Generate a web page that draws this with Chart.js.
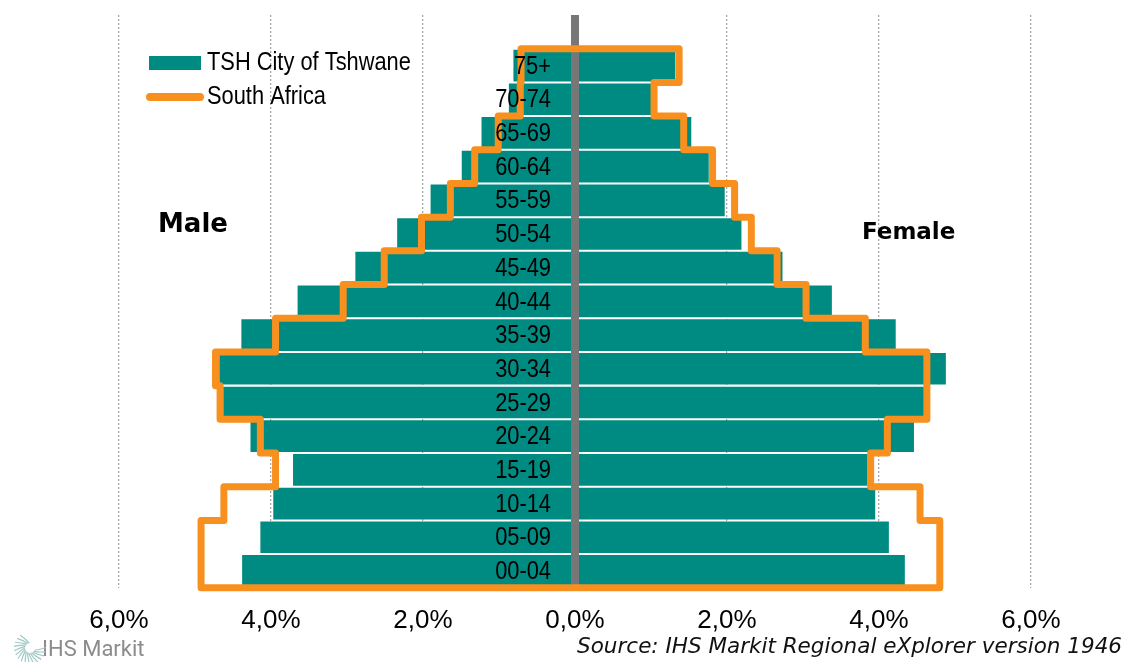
<!DOCTYPE html>
<html>
<head>
<meta charset="utf-8">
<script src="https://cdn.jsdelivr.net/npm/chart.js@4.4.1/dist/chart.umd.min.js"></script>
<style>
  html, body { margin: 0; padding: 0; background: #fff; }
  #wrap { width: 1127px; height: 662px; position: relative; }
</style>
</head>
<body>
<div id="wrap"><canvas id="pyramid"></canvas></div>
<script>
// age groups, youngest first (drawn bottom to top)
const ageGroups = ['00-04', '05-09', '10-14', '15-19', '20-24', '25-29', '30-34', '35-39',
    '40-44', '45-49', '50-54', '55-59', '60-64', '65-69', '70-74', '75+'];

// % of population, TSH City of Tshwane
const tshwaneMale   = [4.38, 4.14, 3.97, 3.71, 4.27, 4.63, 4.68, 4.39, 3.65, 2.89, 2.34, 1.90, 1.49, 1.23, 0.87, 0.81];
const tshwaneFemale = [4.34, 4.13, 3.95, 3.85, 4.46, 4.60, 4.88, 4.22, 3.38, 2.73, 2.19, 1.97, 1.76, 1.53, 1.00, 1.32];

// % of population, South Africa
const saMale   = [4.92, 4.92, 4.62, 3.94, 4.14, 4.67, 4.73, 3.94, 3.05, 2.51, 2.02, 1.64, 1.32, 1.01, 0.72, 0.71];
const saFemale = [4.80, 4.80, 4.54, 3.89, 4.11, 4.63, 4.63, 3.82, 3.04, 2.66, 2.32, 2.10, 1.81, 1.43, 1.04, 1.37];

const xTicks = [-6, -4, -2, 0, 2, 4, 6];

const TEAL = '#008b82';
const ORANGE = '#f8901f';

// male bars go left (negative), female right
const barData = ageGroups.map((g, i) => [-tshwaneMale[i], tshwaneFemale[i]]);

// South Africa outline, as steps round the whole pyramid
const outline = [];
ageGroups.forEach((g, i) => {
    outline.push({ x: saFemale[i], y: i - 0.5 }, { x: saFemale[i], y: i + 0.5 });
});
for (let i = ageGroups.length - 1; i >= 0; i--) {
    outline.push({ x: -saMale[i], y: i + 0.5 }, { x: -saMale[i], y: i - 0.5 });
}
outline.push(outline[0]);

function fmtPct(v) {
    return Math.abs(v).toFixed(1).replace('.', ',') + '%';
}

// no narrow face installed, so squeeze Liberation Sans sideways
function narrowText(ctx, text, x, y, size, align) {
    ctx.save();
    ctx.translate(x, y);
    ctx.scale(0.84, 1);
    ctx.font = size + "px 'Liberation Sans'";
    ctx.textBaseline = 'middle';
    ctx.textAlign = align;
    ctx.fillStyle = '#000';
    ctx.fillText(text, 0, 0);
    ctx.restore();
}

const overlay = {
    id: 'overlay',
    afterDatasetDraw(chart, args) {
        if (args.index !== 0) return;
        // grey centre line, over the bars but under the outline
        const { ctx, chartArea, scales } = chart;
        const x0 = scales.x.getPixelForValue(0);
        ctx.save();
        ctx.fillStyle = '#777777';
        ctx.fillRect(x0 - 4, chartArea.top, 8, chartArea.bottom - chartArea.top);
        ctx.restore();
    },
    afterDatasetsDraw(chart) {
        const { ctx, scales } = chart;
        const xr = scales.x.getPixelForValue(0) - 24;
        ageGroups.forEach((g, i) => {
            narrowText(ctx, g, xr, scales.y.getPixelForValue(i) + 1, 26, 'right');
        });
    },
    afterDraw(chart) {
        const ctx = chart.ctx;
        const ds = chart.data.datasets;

        // legend
        ctx.save();
        ctx.fillStyle = ds[0].backgroundColor;
        ctx.fillRect(149, 56, 52, 14);
        ctx.strokeStyle = ds[1].borderColor;
        ctx.lineWidth = 8;
        ctx.lineCap = 'round';
        ctx.beginPath();
        ctx.moveTo(150, 97);
        ctx.lineTo(200, 97);
        ctx.stroke();
        ctx.restore();
        narrowText(ctx, ds[0].label, 207, 63, 26, 'left');
        narrowText(ctx, ds[1].label, 207, 97, 26, 'left');

        // side titles
        ctx.save();
        ctx.fillStyle = '#000';
        ctx.textBaseline = 'alphabetic';
        ctx.font = "bold 26px 'DejaVu Sans'";
        ctx.fillText('Male', 158, 232);
        ctx.font = "bold 23px 'DejaVu Sans'";
        ctx.fillText('Female', 862, 239);

        // source
        ctx.font = "italic 21.5px 'DejaVu Sans'";
        ctx.textAlign = 'right';
        ctx.fillStyle = '#111';
        ctx.fillText('Source: IHS Markit Regional eXplorer version 1946', 1122, 653);

        // logo
        ctx.textAlign = 'left';
        ctx.font = "22px 'Roboto'";
        ctx.fillStyle = '#8c8c8c';
        ctx.fillText('IHS Markit', 42, 656);
        ctx.strokeStyle = '#9fc9c4';
        ctx.lineWidth = 1.2;
        for (let k = 0; k < 16; k++) {
            const a = Math.PI * 0.55 + k * Math.PI * 1.3 / 15;
            ctx.beginPath();
            ctx.moveTo(30 + Math.cos(a) * 5, 648 - Math.sin(a) * 5);
            ctx.quadraticCurveTo(30 + Math.cos(a + 0.3) * 10, 648 - Math.sin(a + 0.3) * 10,
                30 + Math.cos(a + 0.5) * 16, 648 - Math.sin(a + 0.5) * 16);
            ctx.stroke();
        }
        ctx.restore();
    }
};

new Chart(document.getElementById('pyramid'), {
    type: 'bar',
    data: {
        labels: [...ageGroups, ''],
        datasets: [
            {
                label: 'TSH City of Tshwane',
                data: barData,
                backgroundColor: TEAL,
                borderWidth: 0,
                barPercentage: 0.94,
                categoryPercentage: 1,
                grouped: false,
                order: 2
            },
            {
                type: 'line',
                label: 'South Africa',
                data: outline,
                yAxisID: 'yl',
                xAxisID: 'x',
                borderColor: ORANGE,
                backgroundColor: ORANGE,
                borderWidth: 7,
                borderJoinStyle: 'round',
                borderCapStyle: 'round',
                pointRadius: 0,
                tension: 0,
                fill: false,
                clip: false,
                order: 1
            }
        ]
    },
    options: {
        indexAxis: 'y',
        responsive: true,
        maintainAspectRatio: false,
        animation: false,
        layout: { padding: { left: 119, right: 96, top: 15, bottom: 9 } },
        plugins: {
            legend: { display: false },
            tooltip: { enabled: false }
        },
        scales: {
            x: {
                type: 'linear',
                min: xTicks[0],
                max: xTicks[xTicks.length - 1],
                afterBuildTicks: axis => { axis.ticks = xTicks.map(v => ({ value: v })); },
                ticks: {
                    callback: v => fmtPct(v),
                    color: '#000',
                    padding: 17,
                    font: { family: "'Liberation Sans'", size: 26 }
                },
                grid: {
                    color: c => (c.tick && c.tick.value === 0) ? 'rgba(0,0,0,0)' : '#a8a8a8',
                    lineWidth: 1.3,
                    drawTicks: false
                },
                border: { display: false, dash: [2, 2] }
            },
            y: {
                type: 'category',
                reverse: true,
                offset: true,
                display: false,
                grid: { display: false }
            },
            yl: {
                type: 'linear',
                min: -0.5,
                max: ageGroups.length + 0.5,
                offset: false,
                display: false
            }
        }
    },
    plugins: [overlay]
});
</script>
</body>
</html>
